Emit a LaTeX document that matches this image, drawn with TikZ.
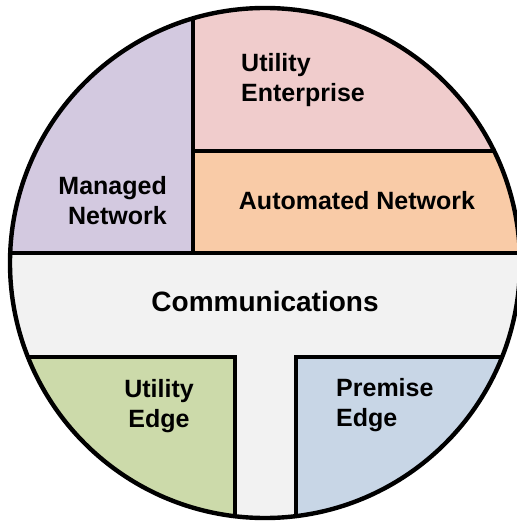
\documentclass[tikz,border=0pt]{standalone}
\usepackage{fontspec}
\setmainfont{Liberation Sans}
\usetikzlibrary{positioning}

\definecolor{commgrey}{RGB}{242,242,242}
\definecolor{managedlilac}{RGB}{211,201,224}
\definecolor{enterprisepink}{RGB}{240,204,204}
\definecolor{automatedorange}{RGB}{249,203,167}
\definecolor{edgegreen}{RGB}{204,218,170}
\definecolor{premiseblue}{RGB}{200,214,230}

\begin{document}
\begin{tikzpicture}[x=1bp, y=-1bp,
    wall/.style={line width=4bp, black},
    label/.style={font=\bfseries\fontsize{25bp}{30bp}\selectfont, inner sep=0pt}]
    \useasboundingbox (0,0) rectangle (517,522);
    \coordinate (Centre) at (265,263);

    % sectors, cut to the disc
    \begin{scope}
        \clip (Centre) circle (255);
        \fill [commgrey] (0,0) rectangle (540,540);
        \fill [managedlilac] (0,0) rectangle (193,253);
        \fill [enterprisepink] (193,0) rectangle (540,151);
        \fill [automatedorange] (193,151) rectangle (540,253);
        \fill [edgegreen] (0,357) rectangle (235,540);
        \fill [premiseblue] (296,357) rectangle (540,540);

        \draw [wall] (193,0) -- (193,253);
        \draw [wall] (193,151) -- (540,151);
        \draw [wall] (0,253) -- (540,253);
        \draw [wall] (0,357) -- (235,357) -- (235,540);
        \draw [wall] (540,357) -- (296,357) -- (296,540);
    \end{scope}
    \draw [wall, line width=4.4bp] (Centre) circle (255);

    \node [label, align=right, anchor=east] (managed) at (167,201) {Managed\\Network};
    \node [label, align=left, anchor=west] (enterprise) at (241,80) {Utility\\Enterprise};
    \node [label] (automated) at (357,201) {Automated Network};
    \node [label, font=\bfseries\fontsize{28bp}{32bp}\selectfont] (comms) at (265,301) {Communications};
    \node [label, align=center] (utiledge) at (159,406) {Utility\\Edge};
    \node [label, align=left, anchor=west] (premedge) at (336,405) {Premise\\Edge};
\end{tikzpicture}
\end{document}
